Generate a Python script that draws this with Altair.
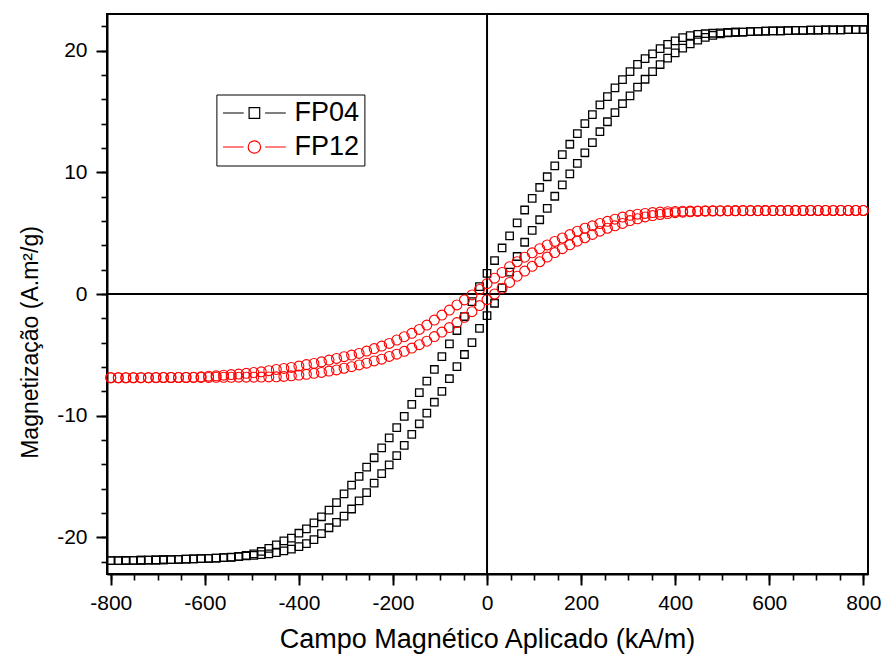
import altair as alt
import pandas as pd

# Applied field grid (kA/m)
H = [-800, -784, -768, -752, -736, -720, -704, -688, -672, -656, -640, -624, -608, -592, -576,
     -560, -544, -528, -512, -496, -480, -464, -448, -432, -416, -400, -384, -368, -352, -336,
     -320, -304, -288, -272, -256, -240, -224, -208, -192, -176, -160, -144, -128, -112, -96,
     -80, -64, -48, -32, -16, 0, 16, 32, 48, 64, 80, 96, 112, 128, 144, 160, 176, 192, 208,
     224, 240, 256, 272, 288, 304, 320, 336, 352, 368, 384, 400, 416, 432, 448, 464, 480, 496,
     512, 528, 544, 560, 576, 592, 608, 624, 640, 656, 672, 688, 704, 720, 736, 752, 768, 784, 800]

# FP04 - descending branch (upper)
fp04_desc = [-21.9, -21.9, -21.89, -21.88, -21.87, -21.86, -21.85, -21.83, -21.82, -21.8, -21.78,
             -21.76, -21.74, -21.72, -21.69, -21.66, -21.62,
             -21.56, -21.48, -21.35, -21.15, -20.9, -20.6, -20.28, -20.05, -19.65, -19.3, -18.8,
             -18.3, -17.75, -17.13, -16.42, -15.7, -14.98, -14.22, -13.45, -12.64, -11.82, -10.98,
             -10.05, -9.07, -8.1, -7.15, -6.2, -5.15, -4.1, -3.0, -1.85, -0.62, 0.6,
             1.7,
             2.75, 3.78, 4.78, 5.84, 6.9, 7.85, 8.75, 9.63, 10.53, 11.45, 12.3, 13.18, 14.0, 14.74,
             15.54, 16.22, 16.93, 17.61, 18.26, 18.86, 19.34, 19.73, 20.15, 20.5, 20.79, 21.06,
             21.22, 21.32, 21.38, 21.42, 21.45, 21.48, 21.5, 21.52, 21.55, 21.57, 21.59, 21.61,
             21.62, 21.64, 21.65, 21.66, 21.67, 21.68, 21.69, 21.7, 21.7, 21.71, 21.72, 21.72]

# FP04 - ascending branch (lower)
fp04_asc = [-21.9, -21.9, -21.89, -21.88, -21.87, -21.86, -21.85, -21.83, -21.82, -21.8, -21.78,
            -21.76, -21.74, -21.72, -21.69, -21.66, -21.64,
            -21.58, -21.52, -21.47, -21.41, -21.34, -21.24, -21.1, -20.95, -20.75, -20.5, -20.17,
            -19.68, -19.2, -18.76, -18.25, -17.66, -17.0, -16.31, -15.53, -14.75, -14.03, -13.27,
            -12.44, -11.53, -10.66, -9.79, -8.89, -8.0, -6.96, -5.96, -4.97, -4.0, -2.82,
            -1.78,
            -0.76, 0.5, 1.8, 3.08, 4.25, 5.22, 6.1, 7.04, 8.03, 8.97, 9.87, 10.73, 11.6, 12.43,
            13.33, 14.15, 14.9, 15.63, 16.27, 16.99, 17.64, 18.26, 18.85, 19.38, 19.8, 20.2, 20.55,
            20.85, 21.08, 21.25, 21.37, 21.45, 21.5, 21.52, 21.55, 21.57, 21.59, 21.61, 21.62,
            21.64, 21.65, 21.66, 21.67, 21.68, 21.69, 21.7, 21.7, 21.71, 21.72, 21.72]

# FP12 - descending branch (upper)
fp12_desc = [-6.88, -6.88, -6.88, -6.87, -6.87, -6.87, -6.86, -6.86, -6.86, -6.85, -6.85, -6.84,
             -6.8, -6.75, -6.72, -6.67, -6.62, -6.58, -6.52, -6.45, -6.39, -6.3, -6.2, -6.11,
             -6.03, -5.92, -5.8, -5.7, -5.57, -5.43, -5.29, -5.15, -5.02, -4.88, -4.69, -4.48,
             -4.28, -4.06, -3.78, -3.51, -3.23, -2.91, -2.55, -2.14, -1.73, -1.32, -0.9, -0.49,
             -0.08, 0.37,
             0.85,
             1.3, 1.77, 2.24, 2.65, 3.02, 3.38, 3.72, 4.03, 4.32, 4.6, 4.88, 5.16, 5.4, 5.6, 5.79,
             5.97, 6.15, 6.32, 6.46, 6.56, 6.62, 6.69, 6.73, 6.76, 6.78, 6.8, 6.81, 6.82, 6.83,
             6.84, 6.84, 6.84, 6.85, 6.85, 6.85, 6.85, 6.85, 6.85, 6.85, 6.86, 6.86, 6.86, 6.86,
             6.86, 6.86, 6.86, 6.86, 6.86, 6.86, 6.86]

# FP12 - ascending branch (lower)
fp12_asc = [-6.88, -6.88, -6.88, -6.88, -6.87, -6.87, -6.87, -6.86, -6.86, -6.86, -6.86, -6.85,
            -6.85, -6.85, -6.84, -6.84, -6.84, -6.83, -6.83, -6.83, -6.82, -6.81, -6.8,
            -6.77, -6.72, -6.66, -6.6, -6.52, -6.44, -6.33, -6.24, -6.1, -5.97, -5.83, -5.68,
            -5.5, -5.35, -5.13, -4.94, -4.71, -4.44, -4.16, -3.88, -3.5, -3.13, -2.76, -2.35,
            -1.92, -1.45, -0.95,
            -0.47,
            0.0, 0.47, 0.95, 1.46, 1.88, 2.27, 2.65, 3.03, 3.4, 3.72, 4.04, 4.34, 4.62, 4.89,
            5.16, 5.4, 5.6, 5.8, 6.03, 6.18, 6.33, 6.44, 6.53, 6.61, 6.68, 6.72, 6.75, 6.78, 6.8,
            6.81, 6.82, 6.83, 6.83, 6.84, 6.84, 6.84, 6.85, 6.85, 6.85, 6.85, 6.85, 6.85, 6.86,
            6.86, 6.86, 6.86, 6.86, 6.86, 6.86, 6.86]

series_names = ["FP04", "FP12"]
series_colors = ["#000000", "#ff0000"]

x_major = [-800, -600, -400, -200, 0, 200, 400, 600, 800]
x_minor = [-800, -750, -700, -650, -600, -550, -500, -450, -400, -350, -300, -250, -200, -150,
           -100, -50, 0, 50, 100, 150, 200, 250, 300, 350, 400, 450, 500, 550, 600, 650, 700,
           750, 800]
y_major = [-20, -10, 0, 10, 20]
y_minor = [-22, -20, -18, -16, -14, -12, -10, -8, -6, -4, -2, 0, 2, 4, 6, 8, 10, 12, 14, 16,
           18, 20, 22]

frames = []
for name, branches in (("FP04", (fp04_desc, fp04_asc)), ("FP12", (fp12_desc, fp12_asc))):
    for bname, vals in zip(("desc", "asc"), branches):
        frames.append(pd.DataFrame({"H": H, "M": vals, "series": name, "branch": bname}))
df = pd.concat(frames, ignore_index=True)
zero_df = pd.DataFrame({"v": [0]})

FONT = "Liberation Sans"
xscale = alt.Scale(domain=[-808, 810], nice=False, zero=False)
yscale = alt.Scale(domain=[-23, 23], nice=False, zero=False)
label_expr = "'' + datum.value"

x_axis_major = alt.Axis(values=x_major, orient="bottom", tickSize=11, tickWidth=2,
                        domain=True, domainWidth=2, domainColor="black",
                        labelFontSize=21, labelPadding=7, labelFlush=False, labelExpr=label_expr,
                        title="Campo Magnético Aplicado (kA/m)", titleFontSize=27,
                        titleX=380, titleY=73.5, titleBaseline="alphabetic")
y_axis_major = alt.Axis(values=y_major, orient="left", tickSize=11, tickWidth=2,
                        domain=True, domainWidth=2, domainColor="black",
                        labelFontSize=21, labelPadding=9, labelExpr=label_expr,
                        title="Magnetização (A.m²/g)", titleFontSize=23,
                        titleX=-70, titleY=328, titleBaseline="alphabetic")
x_axis_minor = alt.Axis(values=x_minor, orient="bottom", tickSize=6, tickWidth=1.6,
                        domain=False, labels=False, title=None)
y_axis_minor = alt.Axis(values=y_minor, orient="left", tickSize=6, tickWidth=1.6,
                        domain=False, labels=False, title=None)

vline = alt.Chart(zero_df).mark_rule(color="black", strokeWidth=2).encode(
    x=alt.X("v:Q", scale=xscale, axis=x_axis_minor))
hline = alt.Chart(zero_df).mark_rule(color="black", strokeWidth=2).encode(
    y=alt.Y("v:Q", scale=yscale, axis=y_axis_minor))

fp04 = alt.Chart(df).transform_filter(alt.datum.series == "FP04").mark_point(
    shape="square", filled=False, color=series_colors[0], size=56, strokeWidth=1.3, opacity=1
).encode(
    x=alt.X("H:Q", scale=xscale, axis=x_axis_major),
    y=alt.Y("M:Q", scale=yscale, axis=y_axis_major),
)
fp12 = alt.Chart(df).transform_filter(alt.datum.series == "FP12").mark_point(
    shape="circle", filled=False, color=series_colors[1], size=98, strokeWidth=1.1, opacity=1
).encode(
    x=alt.X("H:Q", scale=xscale, axis=None),
    y=alt.Y("M:Q", scale=yscale, axis=None),
)

sq_path = "M-3.14,0H-1.07M1.07,0H3.14M-0.53,-0.53H0.53V0.53H-0.53Z"
ci_path = ("M-3.14,0H-1.07M1.07,0H3.14M0.62,0A0.62,0.62,0,1,1,-0.62,0"
           "A0.62,0.62,0,1,1,0.62,0Z")
legend = alt.Legend(title=None, orient="none", legendX=109.4, legendY=80.5,
                    symbolSize=400, symbolStrokeWidth=1.2, symbolOffset=19.5,
                    labelOffset=26.6, labelFontSize=27, labelFont=FONT, labelColor="black",
                    padding=5, rowPadding=6, strokeColor="black", fillColor="white",
                    symbolFillColor="transparent")
legend_layer = alt.Chart(df).transform_filter("false").mark_point(
    filled=False, opacity=1, strokeWidth=1.2
).encode(
    shape=alt.Shape("series:N", scale=alt.Scale(domain=series_names, range=[sq_path, ci_path]),
                    legend=legend),
    color=alt.Color("series:N", scale=alt.Scale(domain=series_names, range=series_colors),
                    legend=legend),
)

chart = alt.layer(vline, hline, fp04, fp12, legend_layer).resolve_axis(
    x="independent", y="independent"
).properties(
    width=761, height=560, autosize="none",
    padding={"left": 107, "top": 14, "right": 15, "bottom": 85},
    background="white",
).configure_view(
    stroke="black", strokeWidth=2
).configure_axis(
    grid=False, labelFont=FONT, titleFont=FONT, labelColor="black", titleColor="black",
    tickColor="black", titleFontWeight="normal",
)

chart.save("out.html", embed_options={"renderer": "svg", "actions": False})
